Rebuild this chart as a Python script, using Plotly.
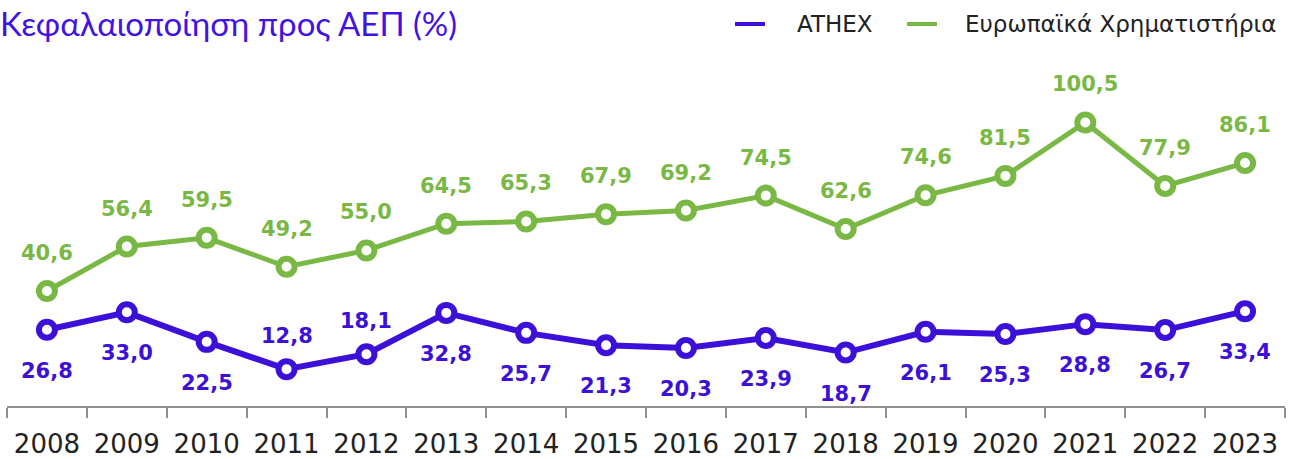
import plotly.graph_objects as go

years = ["2008", "2009", "2010", "2011", "2012", "2013", "2014", "2015",
         "2016", "2017", "2018", "2019", "2020", "2021", "2022", "2023"]
europe = [40.6, 56.4, 59.5, 49.2, 55.0, 64.5, 65.3, 67.9, 69.2, 74.5, 62.6, 74.6, 81.5, 100.5, 77.9, 86.1]
athex = [26.8, 33.0, 22.5, 12.8, 18.1, 32.8, 25.7, 21.3, 20.3, 23.9, 18.7, 26.1, 25.3, 28.8, 26.7, 33.4]
athex_label_side = ["below", "below", "below", "above", "above", "below", "below", "below",
                    "below", "below", "below", "below", "below", "below", "below", "below"]

GREEN = "#7ab845"
PURPLE = "#3c10d8"
title_text = "Κεφαλαιοποίηση προς ΑΕΠ (%)"
name_athex = "ATHEX"
name_europe = "Ευρωπαϊκά Χρηματιστήρια"

# plot area in pixels (for placing the legend in paper coordinates)
W, H = 1293, 459
ML, MR, MT, MB = 7, 8, 60, 53
PW, PH = W - ML - MR, H - MT - MB

def px_x(x):
    return (x - ML) / PW

def px_y(y):
    return (H - MB - y) / PH

fig = go.Figure()

for vals, col, lw, nm in [(europe, GREEN, 5, name_europe), (athex, PURPLE, 6, name_athex)]:
    fig.add_trace(go.Scatter(
        x=years, y=vals, mode="lines+markers", showlegend=False, name=nm,
        line=dict(color=col, width=lw),
        marker=dict(size=16, color="white", line=dict(color=col, width=6)),
        hoverinfo="skip",
    ))

def fmt(v):
    return f"{v:.1f}".replace(".", ",")

LABEL_FONT = "DejaVu Sans"
annotations = []
for i, v in enumerate(europe):
    annotations.append(dict(x=i, y=v, xref="x", yref="y", text=fmt(v), showarrow=False,
                            yshift=38,
                            font=dict(family=LABEL_FONT, size=21, color=GREEN, weight="bold")))
for i, (v, side) in enumerate(zip(athex, athex_label_side)):
    annotations.append(dict(x=i, y=v, xref="x", yref="y", text=fmt(v), showarrow=False,
                            yshift=33 if side == "above" else -41,
                            font=dict(family=LABEL_FONT, size=21, color=PURPLE, weight="bold")))

# custom legend (line sample + text)
shapes = []
for x0, x1, col, tx, nm in [(735, 765, PURPLE, 795, name_athex), (907, 937, GREEN, 963, name_europe)]:
    shapes.append(dict(type="line", xref="paper", yref="paper",
                       x0=px_x(x0), x1=px_x(x1), y0=px_y(24), y1=px_y(24),
                       line=dict(color=col, width=4)))
    annotations.append(dict(x=px_x(tx), y=px_y(24), xref="paper", yref="paper",
                            xanchor="left", yanchor="middle", text=nm, showarrow=False,
                            font=dict(family="DejaVu Sans", size=23, color="#222222")))

fig.update_layout(
    width=W, height=H,
    margin=dict(l=ML, r=MR, t=MT, b=MB),
    paper_bgcolor="white", plot_bgcolor="white",
    showlegend=False,
    title=dict(text=title_text, x=0, xref="container", xanchor="left",
               y=1 - 24 / H, yref="container", yanchor="middle",
               font=dict(family="Lato", size=33, color="#4212e4")),
    xaxis=dict(type="category", tickson="boundaries", showline=True,
               linecolor="#8f8f8f", linewidth=2, ticks="outside", ticklen=10,
               tickwidth=2, tickcolor="#8f8f8f", showgrid=False, zeroline=False,
               tickfont=dict(family="DejaVu Sans", size=26, color="#222222"),
               ticklabelstandoff=14, range=[-0.5, 15.5], automargin=False),
    yaxis=dict(visible=False, range=[-0.3, 122.7], showgrid=False, zeroline=False,
               automargin=False),
    annotations=annotations,
    shapes=shapes,
)

fig.write_html("out.html", config={"displayModeBar": False},
               post_script="document.body.style.margin='0px';")
